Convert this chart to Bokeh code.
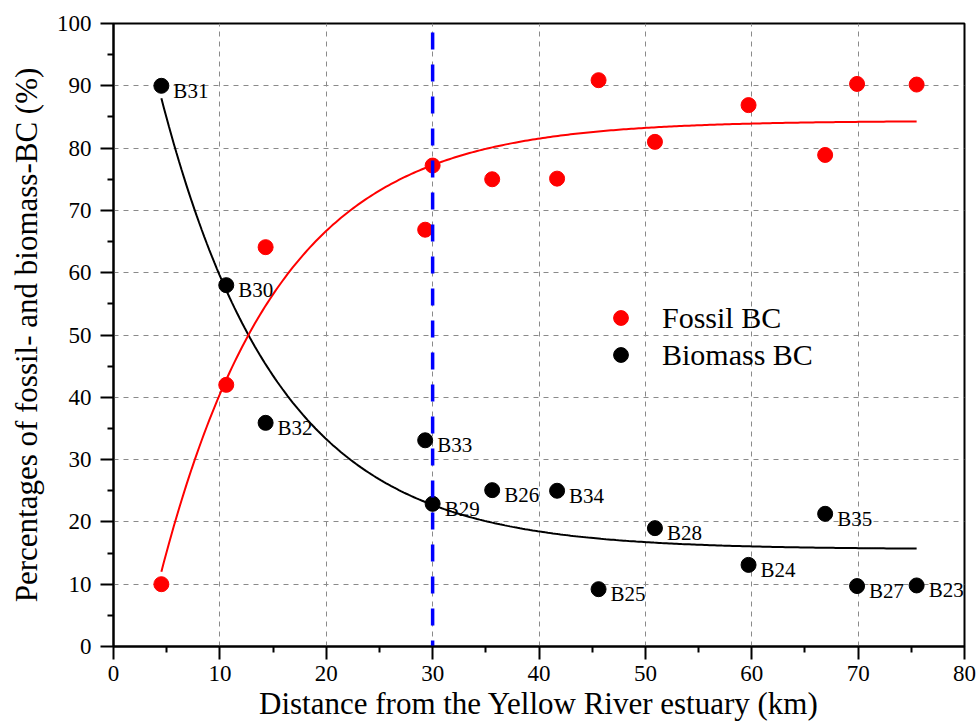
import numpy as np
from bokeh.plotting import figure
from bokeh.models import Range1d, ColumnDataSource, Legend, LegendItem, FixedTicker
from bokeh.core.properties import value
from bokeh.embed import file_html
from bokeh.resources import INLINE

# ---- data ----
sites = ["B31", "B30", "B32", "B33", "B29", "B26", "B34", "B25", "B28", "B24", "B35", "B27", "B23"]
distance_km = [4.5, 10.6, 14.3, 29.3, 30.0, 35.6, 41.7, 45.6, 50.9, 59.7, 66.9, 69.9, 75.5]
fossil_pct = [10.0, 42.0, 64.1, 66.9, 77.2, 75.0, 75.1, 90.9, 81.0, 86.9, 78.9, 90.3, 90.2]
biomass_pct = [90.0, 58.0, 35.9, 33.1, 22.9, 25.1, 25.0, 9.2, 19.0, 13.1, 21.3, 9.7, 9.8]

# exponential fit curves, y = y0 + A * exp(-(x - x0) / t), parameters
fit_x0 = 4.5
fit_x1 = 75.5
fit_t = 11.0
fossil_fit_y0, fossil_fit_A = 84.4, -72.4
biomass_fit_y0, biomass_fit_A = 15.6, 72.4

boundary_km = 30  # vertical dashed line

x_ticks = [0, 10, 20, 30, 40, 50, 60, 70, 80]
y_ticks = [0, 10, 20, 30, 40, 50, 60, 70, 80, 90, 100]

FONT = "Liberation Serif"

# ---- figure ----
p = figure(width=976, height=728,
           x_range=Range1d(x_ticks[0], x_ticks[-1]), y_range=Range1d(y_ticks[0], y_ticks[-1]),
           output_backend="svg", toolbar_location=None,
           min_border_left=113, min_border_right=12, min_border_top=23, min_border_bottom=82)
p.background_fill_color = "white"
p.border_fill_color = "white"
p.outline_line_color = "black"
p.outline_line_width = 2
p.outline_line_alpha = 1

p.xaxis.ticker = FixedTicker(ticks=x_ticks, minor_ticks=[t + 5 for t in x_ticks[:-1]])
p.yaxis.ticker = FixedTicker(ticks=y_ticks, minor_ticks=[t + 5 for t in y_ticks[:-1]])

for ax in (p.xaxis[0], p.yaxis[0]):
    ax.axis_line_width = 2
    ax.axis_line_color = "black"
    ax.major_tick_line_width = 2
    ax.minor_tick_line_width = 2
    ax.major_tick_line_color = "black"
    ax.minor_tick_line_color = "black"
    ax.major_tick_out = 13
    ax.major_tick_in = 0
    ax.minor_tick_out = 6
    ax.minor_tick_in = 0
    ax.major_label_text_font = FONT
    ax.major_label_text_font_size = "23px"
    ax.major_label_text_color = "black"
    ax.axis_label_text_font = FONT
    ax.axis_label_text_font_style = "normal"
    ax.axis_label_text_color = "black"
    ax.axis_label_text_font_size = "31px"

p.xaxis.axis_label = "Distance from the Yellow River estuary (km)"
p.yaxis.axis_label = "Percentages of fossil- and biomass-BC (%)"
p.xaxis.major_label_standoff = 6
p.yaxis.major_label_standoff = 9
p.xaxis.axis_label_standoff = 2
p.yaxis.axis_label_standoff = 10

p.grid.grid_line_color = "#8a8a8a"
p.grid.grid_line_dash = "5 5"
p.grid.grid_line_width = 1

# ---- fit curves ----
xc = np.linspace(fit_x0, fit_x1, 300)
p.line(xc, biomass_fit_y0 + biomass_fit_A * np.exp(-(xc - fit_x0) / fit_t),
       line_color="black", line_width=2)
p.line(xc, fossil_fit_y0 + fossil_fit_A * np.exp(-(xc - fit_x0) / fit_t),
       line_color="#ff0000", line_width=2)

# ---- points ----
src = ColumnDataSource(dict(x=distance_km, fossil=fossil_pct, biomass=biomass_pct, site=sites))
r_fossil = p.scatter("x", "fossil", source=src, size=15, fill_color="#ff0000", line_color="#ff0000")
r_bio = p.scatter("x", "biomass", source=src, size=15, fill_color="black", line_color="black")

# ---- vertical boundary ----
p.line([boundary_km, boundary_km], [y_ticks[-1], y_ticks[0]], line_color="#0000ff",
       line_width=3.5, line_dash="17 15", line_dash_offset=-9)

# ---- site labels ----
p.text("x", "biomass", text="site", source=src, x_offset=12, y_offset=5,
       text_font=value(FONT), text_font_size="21px", text_color="black",
       text_baseline="middle", text_align="left")

# ---- legend ----
legend = Legend(items=[LegendItem(label="Fossil BC", renderers=[r_fossil]),
                       LegendItem(label="Biomass BC", renderers=[r_bio])],
                location=(489, 273), border_line_color=None, background_fill_alpha=0,
                glyph_width=37, glyph_height=37, label_height=37, spacing=0, padding=0, margin=0,
                label_standoff=23, label_text_font=FONT, label_text_font_size="30px",
                label_text_color="black")
p.add_layout(legend)

open("out.html", "w").write(file_html(p, INLINE))
